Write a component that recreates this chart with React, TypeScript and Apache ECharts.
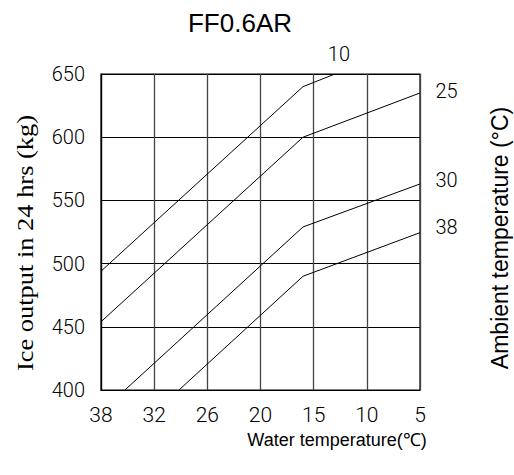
import React, { useEffect, useRef } from "react";
import * as echarts from "echarts";

// X axis: water temperature ticks (evenly spaced on the chart)
const waterTempTicks = [38, 32, 26, 20, 15, 10, 5];
// Y axis: ice output (kg)
const yMin = 400;
const yMax = 650;
const yStep = 50;

// Ambient temperature curves: [water temperature °C, ice output kg]
const curveNames = ["10", "25", "30", "38"];
const curve10 = [
  [38, 494],
  [16, 640],
  [13, 650],
];
const curve25 = [
  [38, 454],
  [16, 600],
  [5, 635],
];
const curve30 = [
  [35.3, 400],
  [16, 529],
  [5, 563],
];
const curve38 = [
  [29.2, 400],
  [16, 490],
  [5, 524.5],
];

const titleText = "FF0.6AR";
const xTitle = "Water temperature(\u2103)";
const yTitle = "Ice output in 24 hrs (kg)";
const rightTitle = "Ambient temperature (\u00B0C)";

// map a water temperature onto the evenly spaced tick index scale
function waterToPos(t: number): number {
  for (let i = 0; i < waterTempTicks.length - 1; i++) {
    const a = waterTempTicks[i];
    const b = waterTempTicks[i + 1];
    if (t <= a && t >= b) return i + (a - t) / (a - b);
  }
  return t > waterTempTicks[0] ? 0 : waterTempTicks.length - 1;
}

const tickFont = "'Roboto Light', Roboto, sans-serif";

function makeSeries(name: string, pts: number[][], labelCfg: any) {
  const data = pts.map((p, i) => {
    const item: any = { value: [waterToPos(p[0]), p[1]] };
    if (i === pts.length - 1) {
      item.label = {
        show: true,
        formatter: name,
        color: "#000",
        fontSize: 20,
        fontWeight: 300,
        fontFamily: tickFont,
        ...labelCfg,
      };
    }
    return item;
  });
  return {
    name,
    type: "line",
    data,
    symbol: "circle",
    symbolSize: 1,
    showSymbol: true,
    itemStyle: { color: "rgba(0,0,0,0)" },
    lineStyle: { color: "#000", width: 1 },
    label: { show: false },
    emphasis: { disabled: true },
    silent: true,
    clip: true,
  };
}

export default function App() {
  const ref = useRef<HTMLDivElement>(null);
  useEffect(() => {
    if (!ref.current) return;
    const chart = echarts.init(ref.current, undefined, { renderer: "svg" });
    const option: any = {
      animation: false,
      backgroundColor: "#fff",
      grid: {
        left: 101,
        top: 74,
        right: 94,
        bottom: 85,
        show: true,
        borderColor: "#000",
        borderWidth: 1.2,
        backgroundColor: "transparent",
      },
      xAxis: {
        type: "value",
        min: 0,
        max: waterTempTicks.length - 1,
        interval: 1,
        axisLine: { show: true, lineStyle: { color: "#000", width: 1.2 } },
        axisTick: { show: false },
        splitLine: { show: true, lineStyle: { color: "#444", width: 1.3 } },
        axisLabel: {
          margin: 14,
          color: "#000",
          fontSize: 21,
          fontWeight: 300,
          fontFamily: tickFont,
          formatter: (v: number) => String(waterTempTicks[Math.round(v)] ?? ""),
        },
      },
      yAxis: {
        type: "value",
        min: yMin,
        max: yMax,
        interval: yStep,
        axisLine: { show: true, lineStyle: { color: "#000", width: 1.2 } },
        axisTick: { show: false },
        splitLine: { show: true, lineStyle: { color: "#000", width: 1 } },
        axisLabel: {
          margin: 16,
          color: "#000",
          fontSize: 20,
          fontWeight: 300,
          fontFamily: tickFont,
        },
      },
      series: [
        makeSeries(curveNames[0], curve10, { position: "top", distance: 10, offset: [4, 0] }),
        makeSeries(curveNames[1], curve25, { position: "right", distance: 15, offset: [0, -2] }),
        makeSeries(curveNames[2], curve30, { position: "right", distance: 15, offset: [0, -4] }),
        makeSeries(curveNames[3], curve38, { position: "right", distance: 15, offset: [0, -6] }),
      ],
      graphic: [
        {
          type: "text",
          x: 240,
          y: 23,
          style: {
            text: titleText,
            fontSize: 26,
            fontFamily: "'Liberation Sans', Arial, sans-serif",
            fill: "#000",
            align: "center",
            verticalAlign: "middle",
          },
        },
        {
          type: "text",
          x: 337,
          y: 440,
          style: {
            text: xTitle,
            fontSize: 18,
            fontFamily: "'Liberation Sans', Arial, sans-serif",
            fill: "#000",
            align: "center",
            verticalAlign: "middle",
          },
        },
        {
          type: "text",
          x: 25,
          y: 243,
          rotation: Math.PI / 2,
          scaleX: 1.15,
          style: {
            text: yTitle,
            fontSize: 23,
            fontFamily: "'Liberation Serif', 'Times New Roman', serif",
            fill: "#000",
            align: "center",
            verticalAlign: "middle",
          },
        },
        {
          type: "text",
          x: 500,
          y: 238,
          rotation: Math.PI / 2,
          style: {
            text: rightTitle,
            fontSize: 23,
            fontFamily: "'Liberation Sans', Arial, sans-serif",
            fill: "#000",
            align: "center",
            verticalAlign: "middle",
          },
        },
      ],
    };
    chart.setOption(option);
    return () => chart.dispose();
  }, []);
  return (
    <div
      ref={ref}
      style={{ position: "absolute", left: 0, top: 0, width: 514, height: 475 }}
    />
  );
}
